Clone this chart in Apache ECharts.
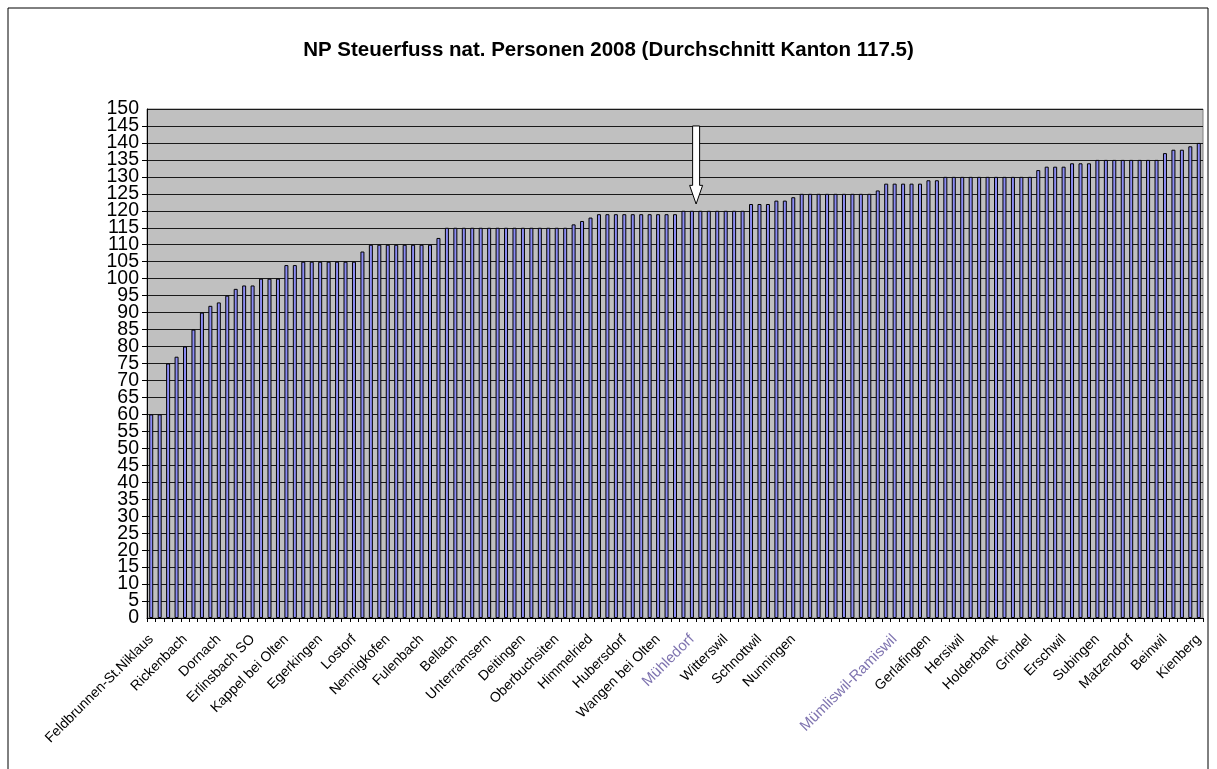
<!DOCTYPE html>
<html>
<head>
<meta charset="utf-8">
<script src="https://cdn.jsdelivr.net/npm/echarts@6/dist/echarts.min.js"></script>
<style>
html,body{margin:0;padding:0;background:#fff;}
#main{width:1217px;height:769px;}
</style>
</head>
<body>
<div id="main"></div>
<script>
// Steuerfuss natuerliche Personen 2008, sortiert
var steuerfuss = [
  60, 60, 75, 77, 80, 85, 90, 92, 93, 95, 97, 98, 98,
  100, 100, 100, 104, 104,
  105, 105, 105, 105, 105, 105, 105, 108,
  110, 110, 110, 110, 110, 110, 110, 110, 112,
  115, 115, 115, 115, 115, 115, 115, 115, 115, 115, 115, 115, 115, 115, 115,
  116, 117, 118,
  119, 119, 119, 119, 119, 119, 119, 119, 119, 119,
  120, 120, 120, 120, 120, 120, 120, 120,
  122, 122, 122, 123, 123, 124,
  125, 125, 125, 125, 125, 125, 125, 125, 125,
  126, 128, 128, 128, 128, 128, 129, 129,
  130, 130, 130, 130, 130, 130, 130, 130, 130, 130, 130,
  132, 133, 133, 133, 134, 134, 134,
  135, 135, 135, 135, 135, 135, 135, 135,
  137, 138, 138, 139, 140
];
// jede vierte Gemeinde ist beschriftet
var labelStep = 4;
var shownNames = [
  'Feldbrunnen-St.Niklaus', 'Rickenbach', 'Dornach', 'Erlinsbach SO',
  'Kappel bei Olten', 'Egerkingen', 'Lostorf', 'Nennigkofen',
  'Fulenbach', 'Bellach', 'Unterramsern', 'Deitingen',
  'Oberbuchsiten', 'Himmelried', 'Hubersdorf', 'Wangen bei Olten',
  'Mühledorf', 'Witterswil', 'Schnottwil', 'Nunningen',
  '', '', 'Mümliswil-Ramiswil', 'Gerlafingen',
  'Hersiwil', 'Holderbank', 'Grindel', 'Erschwil',
  'Subingen', 'Matzendorf', 'Beinwil', 'Kienberg'
];
var markedNames = ['Mühledorf', 'Mümliswil-Ramiswil'];
var yMin = 0, yMax = 150, yStep = 5;
// Pfeil ueber Muehledorf
var arrowIndex = 64, arrowTop = 145, arrowHead = 127.5, arrowTip = 122;

var categories = steuerfuss.map(function (v, i) {
  return i % labelStep === 0 ? shownNames[i / labelStep] : '';
});

var myChart = echarts.init(document.getElementById('main'));
var font = "'Liberation Sans', Arial, sans-serif";
var yLabel = {fontFamily: font, fontSize: 19.5, color: '#000', margin: 8};

var option = {
  animation: false,
  title: {
    text: 'NP Steuerfuss nat. Personen 2008 (Durchschnitt Kanton 117.5)',
    left: 'center',
    top: 35,
    textStyle: {fontFamily: font, fontSize: 20.5, fontWeight: 'bold', color: '#000'}
  },
  grid: {
    left: 147, right: 14, top: 109, bottom: 151,
    show: true, backgroundColor: '#c0c0c0', borderColor: '#808080', borderWidth: 1
  },
  xAxis: {
    type: 'category',
    data: categories,
    axisLine: {lineStyle: {color: '#000', width: 1}},
    axisTick: {show: true, length: 4, interval: 0, lineStyle: {color: '#000'}},
    axisLabel: {
      interval: labelStep - 1,
      rotate: 45,
      margin: 19,
      fontFamily: font,
      fontSize: 14,
      color: '#000',
      formatter: function (v) {
        return markedNames.indexOf(v) >= 0 ? '{hl|' + v + '}' : v;
      },
      rich: {hl: {color: '#7f74b0', fontFamily: font, fontSize: 15}}
    }
  },
  yAxis: [
    {
      type: 'value',
      min: yMin, max: yMax, interval: yStep,
      axisLine: {show: true, lineStyle: {color: '#000', width: 1}},
      axisTick: {show: true, length: 5, lineStyle: {color: '#000'}},
      axisLabel: Object.assign({showMinLabel: false, showMaxLabel: false}, yLabel),
      splitLine: {lineStyle: {color: '#1a1a1a', width: 1}}
    },
    {
      // nur 0 und 150, damit die Nachbarn nicht ausgeblendet werden
      type: 'value',
      position: 'left',
      min: yMin, max: yMax, interval: yMax - yMin,
      axisLine: {show: false},
      axisTick: {show: false},
      splitLine: {show: false},
      axisLabel: yLabel
    }
  ],
  series: [{
    name: 'Steuerfuss',
    type: 'bar',
    data: steuerfuss,
    barWidth: 4,
    itemStyle: {color: '#8c8cf5', borderColor: '#000', borderWidth: 1}
  }]
};
myChart.setOption(option);

// Pfeil und Rahmen
var pA = myChart.convertToPixel({gridIndex: 0}, [arrowIndex, arrowTop]);
var pB = myChart.convertToPixel({gridIndex: 0}, [arrowIndex + 1, arrowHead]);
var pTip = myChart.convertToPixel({gridIndex: 0}, [arrowIndex, arrowTip]);
var ax = (pA[0] + pB[0]) / 2;
myChart.setOption({
  graphic: [
    {
      type: 'rect',
      shape: {x: 8, y: 8, width: 1200, height: 800},
      style: {fill: 'none', stroke: '#000', lineWidth: 1},
      silent: true
    },
    {
      type: 'polygon',
      shape: {points: [
        [ax - 3.5, pA[1]], [ax + 3.5, pA[1]], [ax + 3.5, pB[1]], [ax + 6.5, pB[1]],
        [ax, pTip[1]], [ax - 6.5, pB[1]], [ax - 3.5, pB[1]]
      ]},
      style: {fill: '#fff', stroke: '#000', lineWidth: 1},
      z: 100
    }
  ]
});
</script>
</body>
</html>
